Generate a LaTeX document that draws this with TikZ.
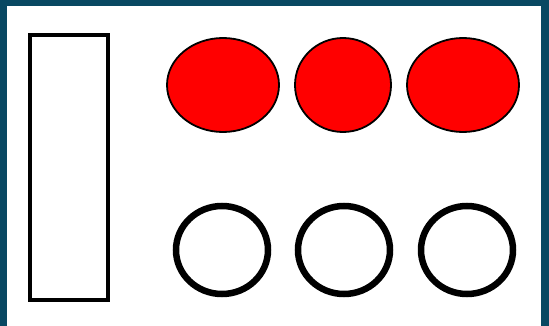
\documentclass[tikz,border=0pt]{standalone}
\usetikzlibrary{calc}

\begin{document}
\begin{tikzpicture}[x=1pt, y=-1pt]
    % --- Colores ---
    \definecolor{marco}{RGB}{8,72,98}
    \definecolor{rojo}{RGB}{255,0,0}

    % --- Fondo y marco ---
    \useasboundingbox (0,0) rectangle (549,326);
    \fill[marco] (0,0) rectangle (549,326);
    \fill[white] (7,6) rectangle (541,326);

    % --- Rectangulo vertical ---
    \draw[black, line width=3.2pt] (30,35) rectangle (108,300);

    % --- Fila superior: elipses rojas ---
    \coordinate (R1) at (223,85);
    \coordinate (R2) at (343,85);
    \coordinate (R3) at (463,85);
    \draw[draw=black, fill=rojo, line width=1.8pt] (R1) ellipse (56 and 47);
    \draw[draw=black, fill=rojo, line width=1.8pt] (R2) ellipse (48 and 47);
    \draw[draw=black, fill=rojo, line width=1.8pt] (R3) ellipse (56 and 47);

    % --- Fila inferior: circulos vacios ---
    \foreach \x in {222,344,467} {
        \draw[black, line width=6.5pt] (\x,250) ellipse (46 and 44);
    }

\end{tikzpicture}
\end{document}
